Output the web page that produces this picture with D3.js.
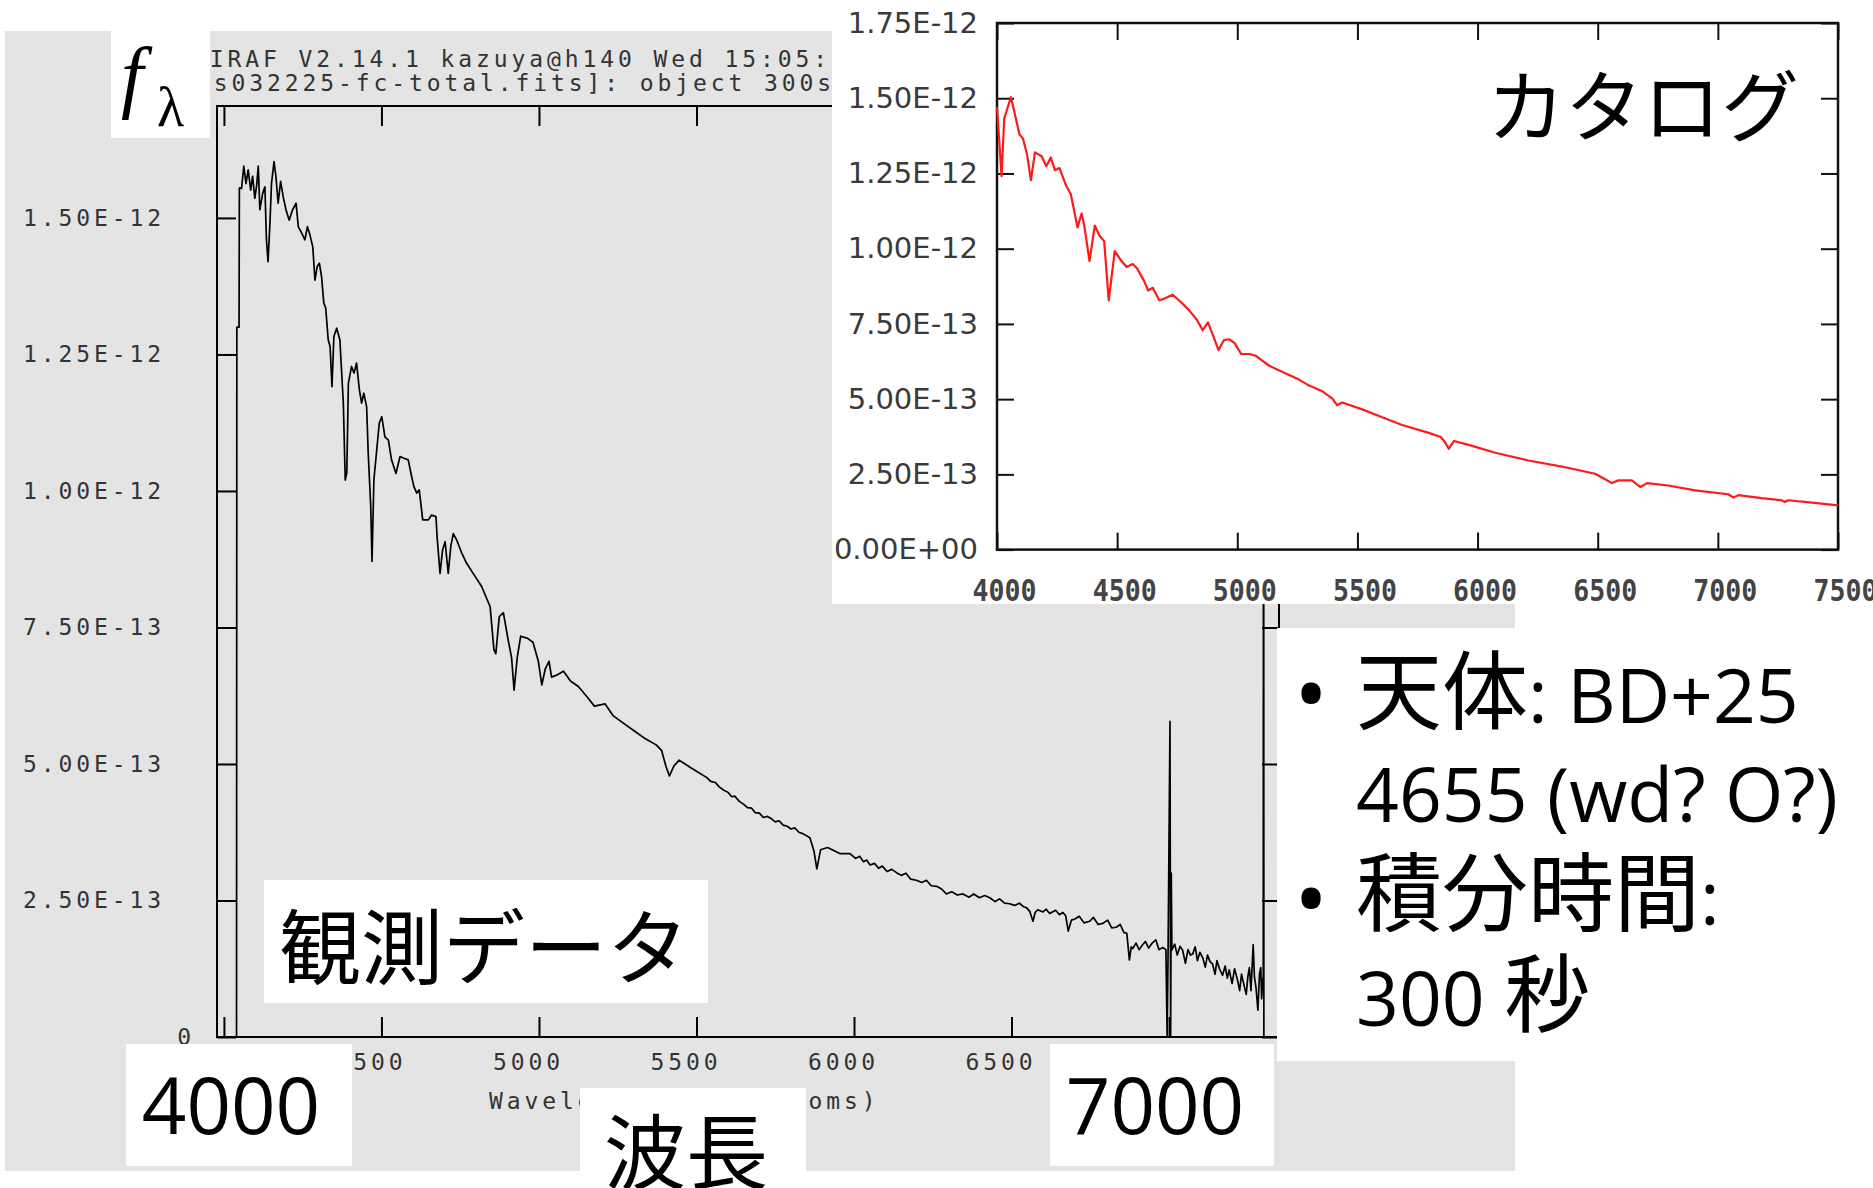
<!DOCTYPE html>
<html>
<head>
<meta charset="utf-8">
<script src="https://cdn.jsdelivr.net/npm/d3@7"></script>
<style>
body { margin: 0; background: #fff; }
.iraf text { font-family: "DejaVu Sans Mono", monospace; font-size: 23px; letter-spacing: 3.9px; fill: #333; }
.cat .ylab text { font-family: "DejaVu Sans", sans-serif; font-size: 29px; fill: #3a3a3a; }
.cat .xlab text { font-family: "DejaVu Sans Mono", monospace; font-weight: bold; font-size: 30px; fill: #444; }
.jp { font-family: "Noto Sans CJK JP", sans-serif; fill: #000; }
.lat { font-family: "Open Sans", sans-serif; fill: #000; }
</style>
</head>
<body>
<div id="chart"></div>
<script>
const W = 1873, H = 1188;

// 観測データ (IRAF), flux in units of 1e-12
const obsWave = [4040,4041,4048,4049,4056,4063,4070,4077,4085,4091,4098,4104,4109,4114,4123,4130,4135,4140,4146,4151,
  4159,4165,4172,4180,4188,4197,4207,4218,4229,4236,4247,4257,4265,4273,4282,4289,4296,4303,4310,4317,
  4323,4331,4337,4343,4349,4358,4368,4379,4385,4390,4395,4405,4413,4421,4430,4437,4444,4453,4458,4466,
  4470,4476,4485,4493,4501,4511,4522,4532,4546,4559,4571,4585,4596,4603,4612,4620,4631,4649,4659,4673,
  4677,4686,4694,4702,4712,4720,4728,4739,4755,4770,4791,4818,4845,4857,4863,4874,4887,4901,4913,4921,
  4931,4942,4964,4981,4998,5009,5020,5032,5040,5057,5078,5100,5125,5151,5176,5210,5236,5270,5304,5338,
  5372,5389,5403,5414,5428,5445,5482,5533,5545,5560,5572,5584,5600,5612,5622,5635,5650,5662,5675,5686,
  5700,5712,5725,5737,5750,5762,5775,5788,5800,5812,5825,5839,5860,5873,5882,5894,5916,5955,5987,6005,
  6018,6030,6040,6051,6065,6078,6090,6105,6120,6135,6150,6165,6180,6198,6215,6230,6245,6262,6278,6293,
  6310,6328,6346,6365,6380,6398,6415,6431,6448,6462,6478,6494,6510,6525,6540,6547,6558,6568,6575,6583,
  6600,6610,6621,6640,6652,6663,6672,6680,6690,6701,6715,6730,6748,6760,6775,6790,6805,6818,6832,6845,
  6857,6866,6874,6880,6885,6895,6905,6916,6925,6935,6948,6958,6968,6980,6990,6994,6997,7003,7005,7007,
  7009,7018,7026,7035,7043,7052,7060,7068,7075,7083,7090,7098,7107,7115,7122,7130,7138,7146,7152,7160,
  7170,7178,7185,7191,7200,7208,7217,7224,7230,7238,7245,7250,7255,7260,7267,7271,7276,7282,7287,7291,
  7294,7297,7299,7300,7301];
const obsFlux = [0,1.30,1.30,1.555,1.554,1.595,1.563,1.588,1.551,1.576,1.536,1.560,1.595,1.515,1.545,1.557,1.460,1.420,1.490,1.563,
  1.603,1.576,1.527,1.567,1.539,1.515,1.496,1.515,1.527,1.484,1.472,1.460,1.484,1.469,1.447,1.386,1.411,1.417,1.392,1.344,
  1.335,1.277,1.264,1.191,1.283,1.298,1.277,1.161,1.020,1.033,1.197,1.228,1.216,1.234,1.185,1.161,1.179,1.154,1.069,0.971,
  0.871,1.020,1.075,1.124,1.136,1.099,1.093,1.057,1.032,1.063,1.060,1.057,1.026,1.008,0.996,1.002,0.947,0.947,0.956,0.953,
  0.913,0.849,0.892,0.907,0.849,0.898,0.922,0.910,0.886,0.868,0.849,0.825,0.788,0.709,0.702,0.770,0.777,0.731,0.695,0.635,
  0.695,0.734,0.730,0.723,0.688,0.645,0.674,0.688,0.659,0.663,0.670,0.652,0.642,0.624,0.606,0.610,0.588,0.574,0.560,0.546,
  0.535,0.525,0.496,0.478,0.496,0.507,0.493,0.475,0.468,0.466,0.458,0.453,0.448,0.440,0.441,0.432,0.426,0.420,0.419,0.411,
  0.410,0.402,0.404,0.400,0.394,0.396,0.388,0.386,0.381,0.383,0.375,0.372,0.365,0.340,0.308,0.343,0.347,0.336,0.336,0.327,
  0.331,0.321,0.324,0.315,0.318,0.309,0.313,0.303,0.307,0.301,0.296,0.300,0.289,0.287,0.283,0.287,0.277,0.276,0.271,0.262,
  0.266,0.260,0.262,0.256,0.262,0.255,0.259,0.255,0.248,0.253,0.245,0.244,0.241,0.245,0.238,0.237,0.230,0.212,0.228,0.233,
  0.229,0.234,0.226,0.232,0.224,0.228,0.222,0.194,0.214,0.216,0.221,0.209,0.212,0.219,0.206,0.208,0.214,0.200,0.201,0.206,
  0.191,0.190,0.141,0.165,0.162,0.172,0.160,0.169,0.175,0.163,0.173,0.178,0.160,0.164,0.160,0,0.160,0.578,0,0.300,
  0.159,0.170,0.150,0.166,0.159,0.135,0.160,0.150,0.152,0.165,0.140,0.155,0.145,0.128,0.150,0.138,0.134,0.115,0.140,0.125,
  0.113,0.130,0.108,0.123,0.098,0.125,0.105,0.085,0.115,0.095,0.078,0.110,0.127,0.085,0.169,0.110,0.091,0.049,0.115,0.127,
  0.070,0.105,0.110,1.72,0];

// カタログ spectrum, flux in units of 1e-12
const catWave = [4000,4019,4030,4058,4094,4108,4125,4141,4158,4186,4205,4224,4241,4260,4288,4307,4335,4352,4363,4385,
  4407,4426,4446,4465,4490,4518,4540,4565,4584,4612,4629,4648,4676,4695,4731,4767,4800,4833,4856,4878,
  4897,4922,4944,4966,4989,5016,5049,5077,5133,5202,5257,5299,5354,5396,5415,5437,5520,5603,5686,5797,
  5847,5866,5880,5902,5963,6074,6212,6351,6489,6531,6559,6586,6642,6678,6705,6794,6905,7043,7065,7085,
  7182,7265,7279,7292,7403,7500];
const catFlux = [1.471,1.241,1.432,1.504,1.379,1.366,1.314,1.228,1.320,1.307,1.274,1.303,1.261,1.268,1.209,1.182,1.071,1.117,1.077,0.959,
  1.077,1.044,1.025,0.828,0.992,0.959,0.939,0.949,0.933,0.893,0.861,0.870,0.828,0.834,0.847,0.821,0.795,0.762,0.729,0.755,
  0.716,0.663,0.696,0.699,0.686,0.650,0.650,0.644,0.611,0.585,0.565,0.545,0.526,0.502,0.480,0.489,0.466,0.440,0.414,0.388,
  0.374,0.355,0.335,0.361,0.348,0.322,0.296,0.276,0.252,0.234,0.221,0.230,0.230,0.208,0.221,0.213,0.197,0.184,0.173,0.181,
  0.171,0.164,0.158,0.164,0.155,0.147];

const irafXTicks = [4000, 4500, 5000, 5500, 6000, 6500, 7000];
const irafYTicks = [0, 0.25, 0.5, 0.75, 1.0, 1.25, 1.5];
const catXTicks = [4000, 4500, 5000, 5500, 6000, 6500, 7000, 7500];
const catYTicks = [0, 0.25, 0.5, 0.75, 1.0, 1.25, 1.5, 1.75];

const irafTitle = ["NOAO/IRAF V2.14.1 kazuya@h140 Wed 15:05:41 26-Mar-2008",
                   "[s032225-fc-total.fits]: object 300s"];
const irafXLabel = "Wavelength (angstroms)";

// 1.50E-12 style labels (values are in 1e-12)
function sci(v) {
    const parts = (v * 1e-12).toExponential(2).split('e');
    const e = +parts[1];
    return parts[0] + 'E' + (e < 0 ? '-' : '+') + String(Math.abs(e)).padStart(2, '0');
}

const svg = d3.select('#chart').append('svg')
    .attr('width', W)
    .attr('height', H);

// fondo gris de la captura IRAF
svg.append('rect').attr('x', 5).attr('y', 31).attr('width', 1510).attr('height', 1140).attr('fill', '#e4e4e4');

// ---- IRAF plot ----
const iraf = svg.append('g').attr('class', 'iraf');
const xI = d3.scaleLinear().domain([3978, 7349]).range([217, 1279]);
const yI = d3.scaleLinear().domain([0, 1.705]).range([1037, 106]);

iraf.append('defs').append('clipPath').attr('id', 'clipI')
    .append('rect').attr('x', 217).attr('y', 106).attr('width', 1062).attr('height', 931);

iraf.append('g').attr('transform', 'translate(0,1037)')
    .call(d3.axisBottom(xI).tickValues(irafXTicks).tickSize(-20).tickSizeOuter(0).tickFormat(d3.format('d')))
    .call(g => g.select('.domain').remove())
    .call(g => g.selectAll('line').attr('stroke', '#000').attr('stroke-width', 2))
    .call(g => g.selectAll('text').attr('y', 33).attr('dy', null).attr('dx', -11));

iraf.append('g').attr('transform', 'translate(0,106)')
    .call(d3.axisTop(xI).tickValues(irafXTicks).tickSize(-20).tickSizeOuter(0).tickFormat(''))
    .call(g => g.select('.domain').remove())
    .call(g => g.selectAll('line').attr('stroke', '#000').attr('stroke-width', 2));

iraf.append('g').attr('transform', 'translate(217,0)')
    .call(d3.axisLeft(yI).tickValues(irafYTicks).tickSize(-19).tickSizeOuter(0).tickPadding(52)
        .tickFormat(v => v === 0 ? '0' : sci(v)))
    .call(g => g.select('.domain').remove())
    .call(g => g.selectAll('line').attr('stroke', '#000').attr('stroke-width', 2))
    .call(g => g.selectAll('text').filter(d => d === 0).attr('x', -22));

iraf.append('g').attr('transform', 'translate(1279,0)')
    .call(d3.axisRight(yI).tickValues(irafYTicks).tickSize(-17).tickSizeOuter(0).tickFormat(''))
    .call(g => g.select('.domain').remove())
    .call(g => g.selectAll('line').attr('stroke', '#000').attr('stroke-width', 2));

iraf.append('rect').attr('x', 217).attr('y', 106).attr('width', 1062).attr('height', 931)
    .attr('fill', 'none').attr('stroke', '#000').attr('stroke-width', 2);

iraf.append('text').attr('x', 121).attr('y', 67).text(irafTitle[0]);
iraf.append('text').attr('x', 196).attr('y', 91).text(irafTitle[1]);
iraf.append('text').attr('x', 489).attr('y', 1109).text(irafXLabel);

const lineI = d3.line().x(i => xI(obsWave[i])).y(i => yI(obsFlux[i]));
iraf.append('path')
    .attr('clip-path', 'url(#clipI)')
    .attr('d', lineI(d3.range(obsWave.length)))
    .attr('fill', 'none').attr('stroke', '#000').attr('stroke-width', 1.7).attr('stroke-linejoin', 'round');

// cajas blancas con etiquetas
function box(x, y, w, h) {
    svg.append('rect').attr('x', x).attr('y', y).attr('width', w).attr('height', h).attr('fill', '#fff');
}
box(111, 31, 99, 107);
const fl = svg.append('text').attr('x', 121).attr('y', 103)
    .style('font-family', '"Liberation Serif", serif').style('font-size', '80px').style('font-style', 'italic');
fl.append('tspan').text('f');
fl.append('tspan').attr('x', 157).attr('y', 126).style('font-size', '56px').style('font-style', 'normal').text('λ');

box(264, 880, 444, 123);
svg.append('text').attr('class', 'jp').attr('x', 484).attr('y', 942)
    .attr('text-anchor', 'middle').attr('dominant-baseline', 'central').style('font-size', '82px').text('観測データ');

box(126, 1044, 226, 122);
svg.append('text').attr('class', 'lat').attr('x', 231).attr('y', 1134)
    .attr('text-anchor', 'middle').style('font-size', '78px').text('4000');

box(580, 1088, 226, 100);
svg.append('text').attr('class', 'jp').attr('x', 686).attr('y', 1147)
    .attr('text-anchor', 'middle').attr('dominant-baseline', 'central').style('font-size', '82px').text('波長');

box(1050, 1044, 224, 122);
svg.append('text').attr('class', 'lat').attr('x', 1155).attr('y', 1134)
    .attr('text-anchor', 'middle').style('font-size', '78px').text('7000');

// ---- カタログ inset ----
svg.append('rect').attr('x', 832).attr('y', 0).attr('width', W - 832).attr('height', 604).attr('fill', '#fff');
const cat = svg.append('g').attr('class', 'cat');
const xC = d3.scaleLinear().domain([4000, 7500]).range([997, 1838]);
const yC = d3.scaleLinear().domain([0, 1.75]).range([549.6, 23]);

cat.append('g').attr('class', 'ylab').attr('transform', 'translate(997,0)')
    .call(d3.axisLeft(yC).tickValues(catYTicks).tickSize(-17).tickSizeOuter(0).tickPadding(19).tickFormat(sci))
    .call(g => g.select('.domain').remove())
    .call(g => g.selectAll('line').attr('stroke', '#111').attr('stroke-width', 2));

cat.append('g').attr('transform', 'translate(1838,0)')
    .call(d3.axisRight(yC).tickValues(catYTicks).tickSize(-17).tickSizeOuter(0).tickFormat(''))
    .call(g => g.select('.domain').remove())
    .call(g => g.selectAll('line').attr('stroke', '#111').attr('stroke-width', 2));

cat.append('g').attr('class', 'xlab').attr('transform', 'translate(0,549.6)')
    .call(d3.axisBottom(xC).tickValues(catXTicks).tickSize(-17).tickSizeOuter(0).tickFormat(d3.format('d')))
    .call(g => g.select('.domain').remove())
    .call(g => g.selectAll('line').attr('stroke', '#111').attr('stroke-width', 2))
    .call(g => g.selectAll('text').attr('y', 51).attr('dy', null).attr('dx', 7)
        .attr('textLength', 64).attr('lengthAdjust', 'spacingAndGlyphs'));

cat.append('g').attr('transform', 'translate(0,23)')
    .call(d3.axisTop(xC).tickValues(catXTicks).tickSize(-17).tickSizeOuter(0).tickFormat(''))
    .call(g => g.select('.domain').remove())
    .call(g => g.selectAll('line').attr('stroke', '#111').attr('stroke-width', 2));

cat.append('rect').attr('x', 997).attr('y', 23).attr('width', 841).attr('height', 526.6)
    .attr('fill', 'none').attr('stroke', '#111').attr('stroke-width', 2.5);

const lineC = d3.line().x(i => xC(catWave[i])).y(i => yC(catFlux[i]));
cat.append('path')
    .attr('d', lineC(d3.range(catWave.length)))
    .attr('fill', 'none').attr('stroke', '#ff1a1a').attr('stroke-width', 2.2).attr('stroke-linejoin', 'round');

cat.append('text').attr('class', 'jp').attr('x', 1643).attr('y', 102)
    .attr('text-anchor', 'middle').attr('dominant-baseline', 'central').style('font-size', '78px').text('カタログ');

// ---- 箇条書き ----
svg.append('rect').attr('x', 1277).attr('y', 628).attr('width', W - 1277).attr('height', 433).attr('fill', '#fff');

const bulletY = [691, 896];
bulletY.forEach(y => {
    svg.append('text').attr('class', 'lat').attr('x', 1311).attr('y', y)
        .attr('text-anchor', 'middle').attr('dominant-baseline', 'central').style('font-size', '92px').text('•');
});

const lines = [
    [['jp', '天体'], ['lat', ': BD+25']],
    [['lat', '4655 (wd? O?)']],
    [['jp', '積分時間'], ['lat', ':']],
    [['lat', '300 '], ['jp', '秒']]
];
const baseY = [723, 822, 925, 1026];
lines.forEach((parts, k) => {
    const t = svg.append('text').attr('x', 1356).attr('y', baseY[k]);
    parts.forEach(p => {
        t.append('tspan').attr('class', p[0]).style('font-size', p[0] === 'jp' ? '86px' : '75px').text(p[1]);
    });
});
</script>
</body>
</html>
